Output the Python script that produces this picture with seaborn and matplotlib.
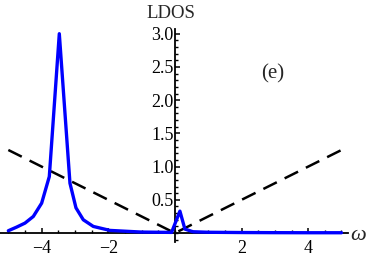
import numpy as np
import pandas as pd
import matplotlib
matplotlib.use("Agg")
import matplotlib.pyplot as plt
import seaborn as sns
from matplotlib.ticker import MultipleLocator, FixedLocator

sns.set_style("white")
plt.rcParams['font.family'] = ['Liberation Serif', 'DejaVu Serif']

# ── Data ──────────────────────────────────────────────────────
omega = [-5.0, -4.75, -4.5, -4.25, -4.0, -3.77, -3.47, -3.15, -2.97, -2.75,
         -2.45, -1.95, -1.0, -0.1, 0.15, 0.3, 0.54, 1.0, 2.0, 3.0, 4.0, 5.0]
ldos = [0.035, 0.09, 0.15, 0.25, 0.45, 0.85, 3.0, 0.75, 0.38, 0.2,
        0.1, 0.04, 0.015, 0.01, 0.33, 0.06, 0.02, 0.012, 0.008, 0.006, 0.005, 0.005]

bath_omega = [-5.0, 0.0, 5.0]
bath_ldos = [1.25, 0.0, 1.25]

yticks = [0.5, 1.0, 1.5, 2.0, 2.5, 3.0]
xticks = [-4, -2, 2, 4]

curve = pd.DataFrame({'omega': omega, 'ldos': ldos})
bath = pd.DataFrame({'omega': bath_omega, 'ldos': bath_ldos})

# ── Figure ────────────────────────────────────────────────────
fig = plt.figure(figsize=(3.74, 2.57), dpi=100, facecolor='white')
ax = fig.add_axes([0.0, 0.0595, 0.930, 0.8275])

sns.lineplot(data=bath, x='omega', y='ldos', ax=ax, color='black',
             linewidth=1.8, sort=False, zorder=2)
ax.lines[-1].set_dashes([6, 3.5])
sns.lineplot(data=curve, x='omega', y='ldos', ax=ax, color=(0, 0, 1),
             linewidth=2.4, sort=False, zorder=3)

ax.set_xlim(-5.25, 5.19)
ax.set_ylim(-0.13, 3.07)

for side in ['top', 'right']:
    ax.spines[side].set_visible(False)
ax.spines['left'].set_position(('data', 0))
ax.spines['bottom'].set_position(('data', 0))
for side in ['left', 'bottom']:
    ax.spines[side].set_linewidth(1.3)
    ax.spines[side].set_color('black')

ax.xaxis.set_major_locator(FixedLocator(xticks))
ax.set_xticklabels([f"{t:g}".replace('-', '\u2212') for t in xticks])
ax.xaxis.set_minor_locator(MultipleLocator(0.5))
ax.yaxis.set_major_locator(FixedLocator(yticks))
ax.set_yticklabels([f"{t:.1f}" for t in yticks])
ax.yaxis.set_minor_locator(MultipleLocator(0.1))

ax.tick_params(axis='both', which='both', bottom=True, left=True,
               direction='in', colors='black')
ax.tick_params(axis='both', which='major', length=3.5, width=1.1, labelsize=13)
ax.tick_params(axis='both', which='minor', length=2.0, width=1.0)
ax.tick_params(axis='x', which='major', pad=5)
ax.tick_params(axis='y', which='major', pad=1.0)

ax.set_xlabel('')
ax.set_ylabel('')
ax.grid(False)

fig.text(171 / 374, 1 - 13 / 257, 'LDOS', ha='center', va='center', fontsize=13.5)
fig.text(358 / 374, 1 - 236 / 257, '\u03c9', ha='center', va='center',
         fontsize=16, fontstyle='italic')
ax.text(2.94, 2.4, '(e)', ha='center', va='center', fontsize=15)

fig.savefig('out.png', dpi=100, facecolor='white')
